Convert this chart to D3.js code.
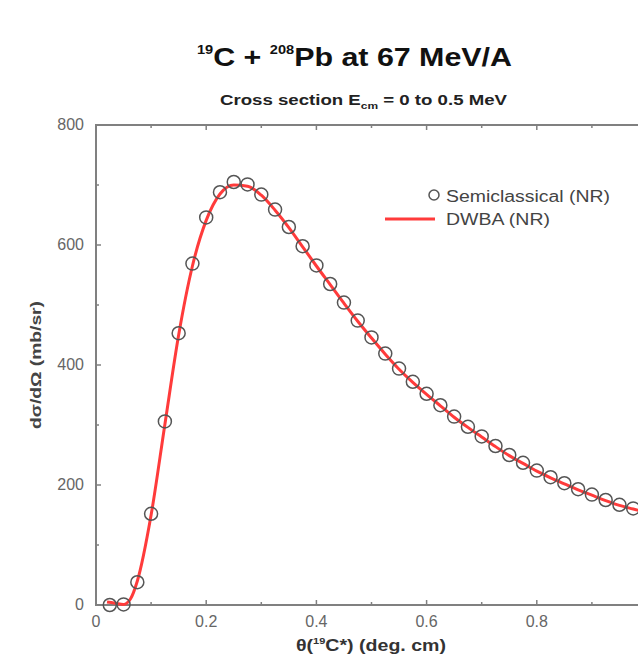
<!DOCTYPE html>
<html>
<head>
<meta charset="utf-8">
<script src="https://cdn.jsdelivr.net/npm/d3@7"></script>
<style>
body { margin: 0; background: #fff; }
svg { display: block; }
</style>
</head>
<body>
<script>
// semiclassical (NR) points
let semi_x = [0.025, 0.05, 0.075, 0.1, 0.125, 0.15, 0.175, 0.2, 0.225, 0.25, 0.275, 0.3,
    0.325, 0.35, 0.375, 0.4, 0.425, 0.45, 0.475, 0.5, 0.525, 0.55, 0.575, 0.6,
    0.625, 0.65, 0.675, 0.7, 0.725, 0.75, 0.775, 0.8, 0.825, 0.85, 0.875, 0.9,
    0.925, 0.95, 0.975, 1.0];
let semi_y = [0, 1, 38, 152, 306, 453, 569, 646, 688, 705, 701, 684,
    659, 630, 598, 566, 535, 504, 474, 446, 419, 394, 372, 352,
    333, 314, 297, 281, 265, 250, 237, 224, 213, 203, 193, 184,
    175, 167, 161, 155];

// DWBA (NR) curve
let dwba_x = [0.02, 0.035, 0.05, 0.0625, 0.075, 0.1, 0.125, 0.15, 0.175, 0.2, 0.225, 0.25,
    0.275, 0.3, 0.325, 0.35, 0.375, 0.4, 0.425, 0.45, 0.475, 0.5, 0.525, 0.55,
    0.575, 0.6, 0.625, 0.65, 0.675, 0.7, 0.725, 0.75, 0.775, 0.8, 0.825, 0.85,
    0.875, 0.9, 0.925, 0.95, 0.975, 1.0];
let dwba_y = [5, 3, 1, 10, 40, 150, 301, 450, 565, 641, 685, 700,
    698, 683, 658, 629, 597, 565, 534, 503, 473, 445, 418, 393,
    371, 351, 332, 313, 296, 280, 264, 249, 236, 223, 212, 202,
    192, 183, 174, 166, 160, 154];

// 1.0 falls outside the window, only ticks there
let x_labels = [0, 0.2, 0.4, 0.6, 0.8];
let x_ticks = [0, 0.2, 0.4, 0.6, 0.8, 1.0];
let x_minor = [0.1, 0.3, 0.5, 0.7, 0.9];
let y_ticks = [0, 200, 400, 600, 800];
let y_minor = [100, 300, 500, 700];

let W = 638, H = 662;
let margin = ({top: 125, left: 96, right: 647, bottom: 605});

let svg = d3.select("body").append("svg")
    .attr("width", W)
    .attr("height", H)
    .style("font-family", "'Liberation Sans', Arial, sans-serif");

let x = d3.scaleLinear().domain([0, 1]).range([margin.left, margin.right]);
let y = d3.scaleLinear().domain([0, 800]).range([margin.bottom, margin.top]);

let axis_col = "#808080";

// frame
svg.append("rect")
    .attr("x", margin.left).attr("y", margin.top)
    .attr("width", margin.right - margin.left)
    .attr("height", margin.bottom - margin.top)
    .attr("fill", "none")
    .attr("stroke", axis_col)
    .attr("stroke-width", 2);

// inward ticks
let tick_g = svg.append("g").attr("stroke", axis_col).attr("stroke-width", 1.5);
x_ticks.concat(x_minor).forEach(d => {
    let len = x_minor.includes(d) ? 3 : 5;
    tick_g.append("line").attr("x1", x(d)).attr("x2", x(d))
        .attr("y1", margin.bottom).attr("y2", margin.bottom - len);
    tick_g.append("line").attr("x1", x(d)).attr("x2", x(d))
        .attr("y1", margin.top).attr("y2", margin.top + len);
});
y_ticks.concat(y_minor).forEach(d => {
    let len = y_minor.includes(d) ? 3 : 5;
    tick_g.append("line").attr("y1", y(d)).attr("y2", y(d))
        .attr("x1", margin.left).attr("x2", margin.left + len);
    tick_g.append("line").attr("y1", y(d)).attr("y2", y(d))
        .attr("x1", margin.right).attr("x2", margin.right - len);
});

// tick labels
svg.append("g").selectAll("text")
    .data(x_labels)
    .join("text")
    .attr("x", d => x(d))
    .attr("y", margin.bottom + 22)
    .attr("text-anchor", "middle")
    .attr("font-size", 16)
    .attr("fill", "#666")
    .text(d => d == 0 ? "0" : d3.format(".1f")(d));

svg.append("g").selectAll("text")
    .data(y_ticks)
    .join("text")
    .attr("x", margin.left - 12)
    .attr("y", d => y(d) + 5)
    .attr("text-anchor", "end")
    .attr("font-size", 16)
    .attr("fill", "#666")
    .text(d => d);

// curve
let line = d3.line()
    .x((d, i) => x(dwba_x[i]))
    .y(d => y(d))
    .curve(d3.curveMonotoneX);

svg.append("path")
    .datum(dwba_y)
    .attr("fill", "none")
    .attr("stroke", "#ff3b3b")
    .attr("stroke-width", 3)
    .attr("d", line);

svg.append("g").selectAll("circle")
    .data(semi_y)
    .join("circle")
    .attr("cx", (d, i) => x(semi_x[i]))
    .attr("cy", d => y(d))
    .attr("r", 6.5)
    .attr("fill", "none")
    .attr("stroke", "#555")
    .attr("stroke-width", 1.5);

// legend
let leg = svg.append("g").attr("font-size", 16).attr("fill", "#444");
leg.append("circle").attr("cx", 434).attr("cy", 195).attr("r", 5)
    .attr("fill", "none").attr("stroke", "#555").attr("stroke-width", 1.5);
leg.append("text").attr("x", 446).attr("y", 202)
    .attr("textLength", 164).attr("lengthAdjust", "spacingAndGlyphs")
    .text("Semiclassical (NR)");
leg.append("line").attr("x1", 385).attr("x2", 435).attr("y1", 219).attr("y2", 219)
    .attr("stroke", "#ff3b3b").attr("stroke-width", 3);
leg.append("text").attr("x", 446).attr("y", 225)
    .attr("textLength", 104).attr("lengthAdjust", "spacingAndGlyphs")
    .text("DWBA (NR)");

// titles
let title = svg.append("text")
    .attr("x", 197).attr("y", 66)
    .attr("font-weight", "bold")
    .attr("font-size", 25)
    .attr("fill", "#111")
    .attr("textLength", 315).attr("lengthAdjust", "spacingAndGlyphs");
title.append("tspan").attr("font-size", 12).attr("dy", -12).text("19");
title.append("tspan").attr("dy", 12).text("C + ");
title.append("tspan").attr("font-size", 12).attr("dy", -12).text("208");
title.append("tspan").attr("dy", 12).text("Pb at 67 MeV/A");

let sub = svg.append("text")
    .attr("x", 220).attr("y", 105)
    .attr("font-weight", "bold")
    .attr("font-size", 14)
    .attr("fill", "#222")
    .attr("textLength", 287).attr("lengthAdjust", "spacingAndGlyphs");
sub.append("tspan").text("Cross section E");
sub.append("tspan").attr("font-size", 9).attr("dy", 4).text("cm");
sub.append("tspan").attr("dy", -4).text(" = 0 to 0.5 MeV");

let xl = svg.append("text")
    .attr("x", 296).attr("y", 651)
    .attr("font-weight", "bold")
    .attr("font-size", 16)
    .attr("fill", "#333")
    .attr("textLength", 150).attr("lengthAdjust", "spacingAndGlyphs");
xl.append("tspan").text("θ(");
xl.append("tspan").attr("font-size", 9).attr("dy", -7).text("19");
xl.append("tspan").attr("dy", 7).text("C*) (deg. cm)");

svg.append("text")
    .attr("transform", `translate(41, ${(margin.top + margin.bottom) / 2}) rotate(-90)`)
    .attr("text-anchor", "middle")
    .attr("font-weight", "bold")
    .attr("font-size", 15)
    .attr("fill", "#444")
    .attr("textLength", 128).attr("lengthAdjust", "spacingAndGlyphs")
    .text("dσ/dΩ (mb/sr)");
</script>
</body>
</html>
